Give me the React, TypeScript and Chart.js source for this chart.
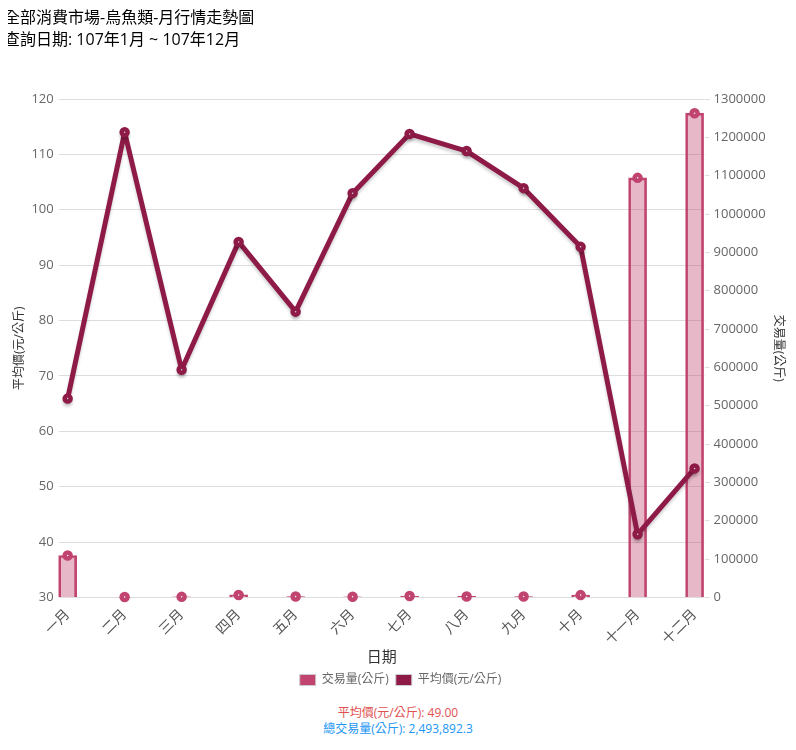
import React, { useEffect, useRef } from "react";
import { Chart, registerables } from "chart.js";

Chart.register(...registerables);

const months = ["一月", "二月", "三月", "四月", "五月", "六月", "七月", "八月", "九月", "十月", "十一月", "十二月"];
const avgPrice = [65.9, 114.0, 71.1, 94.2, 81.6, 103.0, 113.7, 110.6, 103.9, 93.3, 41.4, 53.3];
const volume = [109400, 1200, 1500, 6500, 2500, 1800, 3500, 2600, 2200, 6000, 1094300, 1263000];
const leftTicks = { min: 30, max: 120, step: 10 };
const rightTicks = { min: 0, max: 1300000, step: 100000 };

const titleLine1 = "全部消費市場-烏魚類-月行情走勢圖";
const titleLine2 = "查詢日期: 107年1月 ~ 107年12月";
const summaryAvg = "平均價(元/公斤): 49.00";
const summaryVol = "總交易量(公斤): 2,493,892.3";

const FONT = "'Open Sans', 'Noto Sans CJK TC', sans-serif";
const LINE_COLOR = "#8e1b47";
const BAR_BORDER = "#c0446f";
const BAR_FILL = "rgba(192, 68, 111, 0.38)";

const shadowPlugin = {
  id: "lineShadow",
  beforeDatasetDraw(chart: any, args: any) {
    if (args.index === 0) {
      const ctx = chart.ctx;
      ctx.save();
      ctx.shadowColor = "rgba(0,0,0,0.18)";
      ctx.shadowBlur = 3;
      ctx.shadowOffsetY = 3;
    }
  },
  afterDatasetDraw(chart: any, args: any) {
    if (args.index === 0) chart.ctx.restore();
  },
};

export default function App() {
  const ref = useRef<HTMLCanvasElement | null>(null);

  useEffect(() => {
    if (!ref.current) return;
    const chart = new Chart(ref.current, {
      type: "bar",
      data: {
        datasets: [
          {
            type: "line",
            label: "平均價(元/公斤)",
            data: avgPrice.map((v, i) => ({ x: i, y: v })),
            yAxisID: "y",
            borderColor: LINE_COLOR,
            backgroundColor: LINE_COLOR,
            borderWidth: 5,
            borderJoinStyle: "round",
            pointRadius: 3,
            pointBorderWidth: 4.5,
            pointBackgroundColor: "#ffffff",
            pointBorderColor: LINE_COLOR,
            tension: 0,
            fill: false,
            order: 0,
          } as any,
          {
            type: "line",
            label: "_markers",
            data: volume.map((v, i) => ({ x: i, y: v })),
            yAxisID: "y1",
            showLine: false,
            pointRadius: 3,
            pointBorderWidth: 4.5,
            pointBackgroundColor: "#ffffff",
            pointBorderColor: BAR_BORDER,
            borderColor: BAR_BORDER,
            clip: false,
            order: 1,
          } as any,
          {
            type: "bar",
            label: "交易量(公斤)",
            data: volume.map((v, i) => ({ x: i, y: v })),
            yAxisID: "y1",
            backgroundColor: BAR_FILL,
            borderColor: BAR_BORDER,
            borderWidth: 2,
            barThickness: 18,
            clip: false,
            order: 2,
          } as any,
        ],
      },
      options: {
        responsive: false,
        animation: false,
        layout: { padding: { top: 99, left: 11, right: 6, bottom: 4 } },
        plugins: {
          tooltip: { enabled: false },
          legend: {
            position: "bottom",
            labels: {
              color: "#666",
              padding: 7,
              font: { family: FONT, size: 12 },
              boxWidth: 16,
              boxHeight: 11,
              generateLabels: () => [
                { text: "交易量(公斤)", fillStyle: BAR_BORDER, strokeStyle: "#cccccc", lineWidth: 1, datasetIndex: 2, fontColor: "#666" },
                { text: "平均價(元/公斤)", fillStyle: LINE_COLOR, strokeStyle: "#cccccc", lineWidth: 1, datasetIndex: 0, fontColor: "#666" },
              ] as any,
            },
          },
        },
        scales: {
          x: {
            type: "linear",
            bounds: "data",
            offset: false,
            min: -0.157,
            max: 11.175,
            grid: { display: false, offset: false },
            border: { display: false },
            afterBuildTicks: (scale: any) => {
              scale.ticks = months.map((_, i) => ({ value: i }));
            },
            afterFit: (scale: any) => {
              scale.paddingLeft = 0;
              scale.paddingRight = 0;
            },
            ticks: {
              autoSkip: false,
              maxRotation: 45,
              minRotation: 45,
              padding: 1,
              color: "#555",
              font: { family: FONT, size: 14 },
              callback: (v: any) => {
                const i = Math.round(Number(v));
                return i >= 0 && i < months.length ? months[i] : "";
              },
            },
            title: {
              display: true,
              text: "日期",
              color: "#333",
              font: { family: FONT, size: 15 },
              padding: { top: 0, bottom: 0 },
            },
          },
          y: {
            position: "left",
            min: leftTicks.min,
            max: leftTicks.max,
            grid: { color: "#dddddd", drawTicks: false },
            border: { display: false },
            ticks: {
              stepSize: leftTicks.step,
              color: "#666",
              padding: 5,
              font: { family: FONT, size: 13 },
            },
            title: {
              display: true,
              text: "平均價(元/公斤)",
              color: "#333",
              font: { family: FONT, size: 12 },
              padding: { top: 1, bottom: 0 },
            },
          },
          y1: {
            position: "right",
            min: rightTicks.min,
            max: rightTicks.max,
            grid: { drawOnChartArea: false, color: "#dddddd", tickLength: 5 },
            border: { display: false },
            ticks: {
              stepSize: rightTicks.step,
              color: "#666",
              padding: 4,
              font: { family: FONT, size: 13 },
              callback: (v: any) => String(v),
            },
            title: {
              display: true,
              text: "交易量(公斤)",
              color: "#333",
              font: { family: FONT, size: 12 },
              padding: { top: 4, bottom: 2 },
            },
          },
        },
      } as any,
      plugins: [shadowPlugin],
    });
    return () => chart.destroy();
  }, []);

  return (
    <div style={{ position: "relative", width: 796, height: 750, margin: -8, fontFamily: FONT, overflow: "hidden" }}>
      <canvas ref={ref} width={796} height={700} style={{ position: "absolute", left: 0, top: 0 }} />
      <div style={{ position: "absolute", left: 4, top: 6, fontSize: 16, lineHeight: "22px", color: "#000" }}>
        <div>{titleLine1}</div>
        <div>{titleLine2}</div>
      </div>
      <div style={{ position: "absolute", left: 0, width: 796, top: 705, textAlign: "center", fontSize: 12, lineHeight: "16px" }}>
        <div style={{ color: "#e0504f" }}>{summaryAvg}</div>
        <div style={{ color: "#2196f3" }}>{summaryVol}</div>
      </div>
    </div>
  );
}
